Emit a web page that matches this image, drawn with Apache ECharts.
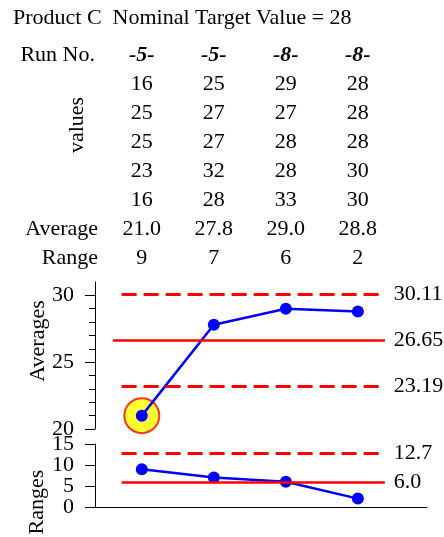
<!DOCTYPE html>
<html>
<head>
<meta charset="utf-8">
<script src="https://cdn.jsdelivr.net/npm/echarts@6/dist/echarts.min.js"></script>
<style>
html,body{margin:0;padding:0;background:#fff;}
#chart{width:444px;height:537px;}
</style>
</head>
<body>
<div id="chart"></div>
<script>
// ---- data ----
const titleText = 'Product C  Nominal Target Value = 28';
const runs = [1, 2, 3, 4];
const runNos = ['-5-', '-5-', '-8-', '-8-'];
const values = [
  [16, 25, 25, 23, 16],
  [25, 27, 27, 32, 28],
  [29, 27, 28, 28, 33],
  [28, 28, 28, 30, 30]
];
const averages = [21.0, 27.8, 29.0, 28.8];
const ranges = [9, 7, 6, 2];
const avgUCL = 30.11;
const avgCL = 26.65;
const avgLCL = 23.19;
const rangeUCL = 12.7;
const rangeCL = 6.0;
const avgTicks = [20, 25, 30];
const avgMinorTicks = [21, 22, 23, 24, 26, 27, 28, 29];
const rangeTicks = [0, 5, 10, 15];

// ---- styles ----
const FONT = 'Liberation Serif';
const FS = 22;
const RED = '#ff0000';
const BLUE = '#0000ff';

const chart = echarts.init(document.getElementById('chart'), null, {renderer: 'canvas'});

function limitLine(x0, x1, v, label, dashed) {
  return [
    {coord: [x0, v], lineStyle: {color: RED, width: dashed ? 3 : 2.5, type: dashed ? [15, 7] : 'solid'},
     label: {formatter: label}},
    {coord: [x1, v]}
  ];
}
const mlLabel = {show: true, position: 'end', distance: 9, color: '#000', fontSize: FS, fontFamily: FONT};

const outOfControl = runs
  .map((r, i) => [r, averages[i]])
  .filter(p => p[1] > avgUCL || p[1] < avgLCL);

const option = {
  animation: false,
  textStyle: {fontFamily: FONT},
  grid: [
    {left: 95, top: 282, width: 332, height: 147},
    {left: 95, top: 444, width: 332, height: 63}
  ],
  xAxis: [
    {gridIndex: 0, type: 'value', min: 0.35, max: 4.96, show: false},
    {gridIndex: 1, type: 'value', min: 0.35, max: 4.96,
     axisLine: {show: true, onZero: false, lineStyle: {color: '#000', width: 1}},
     axisTick: {show: false}, axisLabel: {show: false}, splitLine: {show: false}}
  ],
  yAxis: [
    {gridIndex: 0, type: 'value', min: 20, max: 31, position: 'left',
     axisLine: {show: true, lineStyle: {color: '#000', width: 1}},
     axisTick: {show: true, customValues: avgTicks, length: 10, lineStyle: {color: '#000'}},
     axisLabel: {customValues: avgTicks, color: '#000', fontSize: FS, fontFamily: FONT, margin: 21,
                 showMinLabel: true, showMaxLabel: true, hideOverlap: false},
     splitLine: {show: false}},
    {gridIndex: 0, type: 'value', min: 20, max: 31, position: 'left',
     axisLine: {show: false},
     axisTick: {show: true, customValues: avgMinorTicks, length: 6, lineStyle: {color: '#000'}},
     axisLabel: {show: false},
     splitLine: {show: false}},
    {gridIndex: 1, type: 'value', min: 0, max: 15, interval: 5, position: 'left',
     axisLine: {show: true, lineStyle: {color: '#000', width: 1}},
     axisTick: {show: true, length: 10, lineStyle: {color: '#000'}},
     axisLabel: {show: false},
     splitLine: {show: false}}
  ],
  series: [
    {
      type: 'scatter', xAxisIndex: 0, yAxisIndex: 0, z: 1,
      data: outOfControl, symbol: 'circle', symbolSize: 35,
      itemStyle: {color: '#ffff00', borderColor: RED, borderWidth: 2}, silent: true
    },
    {
      type: 'line', xAxisIndex: 0, yAxisIndex: 0, z: 3,
      data: runs.map((r, i) => [r, averages[i]]),
      symbol: 'circle', symbolSize: 12, showSymbol: true,
      itemStyle: {color: BLUE}, lineStyle: {color: BLUE, width: 2.5},
      markLine: {
        silent: true, symbol: ['none', 'none'], label: mlLabel,
        data: [
          limitLine(0.72, 4.375, avgUCL, avgUCL.toFixed(2), true),
          limitLine(0.6, 4.375, avgCL, avgCL.toFixed(2), false),
          limitLine(0.72, 4.375, avgLCL, avgLCL.toFixed(2), true)
        ]
      }
    },
    {
      type: 'line', xAxisIndex: 1, yAxisIndex: 2, z: 3,
      data: runs.map((r, i) => [r, ranges[i]]),
      symbol: 'circle', symbolSize: 12, showSymbol: true,
      itemStyle: {color: BLUE}, lineStyle: {color: BLUE, width: 2.5},
      markLine: {
        silent: true, symbol: ['none', 'none'], label: mlLabel,
        data: [
          limitLine(0.72, 4.375, rangeUCL, rangeUCL.toFixed(1), true),
          limitLine(0.72, 4.375, rangeCL, rangeCL.toFixed(1), false)
        ]
      }
    }
  ]
};
chart.setOption(option);

// ---- table text positioned by the x scale ----
const colX = runs.map(r => chart.convertToPixel({xAxisIndex: 0}, r));
const rowY0 = 55, rowStep = 29;
const txt = (text, x, y, align, extra) => ({
  type: 'text', x: x, y: y, silent: true,
  style: Object.assign({text: text, fill: '#000', font: FS + 'px "' + FONT + '"', align: align, verticalAlign: 'middle'}, extra || {})
});
const g = [];
g.push(txt(titleText, 13, 18, 'left'));
g.push(txt('Run No.', 95, rowY0, 'right'));
runNos.forEach((t, i) => g.push(txt(t, colX[i], rowY0, 'center', {font: 'italic bold ' + FS + 'px "' + FONT + '"'})));
values.forEach((col, i) => col.forEach((v, j) => g.push(txt(String(v), colX[i], rowY0 + rowStep * (j + 1), 'center'))));
g.push({type: 'text', x: 77, y: 125, rotation: Math.PI / 2, silent: true,
  style: {text: 'values', fill: '#000', font: FS + 'px "' + FONT + '"', align: 'center', verticalAlign: 'middle'}});
g.push(txt('Average', 98, rowY0 + rowStep * 6, 'right'));
averages.forEach((v, i) => g.push(txt(v.toFixed(1), colX[i], rowY0 + rowStep * 6, 'center')));
g.push(txt('Range', 98, rowY0 + rowStep * 7, 'right'));
ranges.forEach((v, i) => g.push(txt(String(v), colX[i], rowY0 + rowStep * 7, 'center')));
// range axis tick labels placed through the range y scale
const axisX = chart.convertToPixel({xAxisIndex: 1}, 0.35);
rangeTicks.forEach(v => {
  const y = chart.convertToPixel({yAxisIndex: 2}, v);
  g.push(txt(String(v), axisX - 21, y, 'right'));
});
g.push({type: 'text', x: 38, y: 341, rotation: Math.PI / 2, silent: true,
  style: {text: 'Averages', fill: '#000', font: FS + 'px "' + FONT + '"', align: 'center', verticalAlign: 'middle'}});
g.push({type: 'text', x: 37, y: 502, rotation: Math.PI / 2, silent: true,
  style: {text: 'Ranges', fill: '#000', font: FS + 'px "' + FONT + '"', align: 'center', verticalAlign: 'middle'}});
chart.setOption({graphic: g});
</script>
</body>
</html>
